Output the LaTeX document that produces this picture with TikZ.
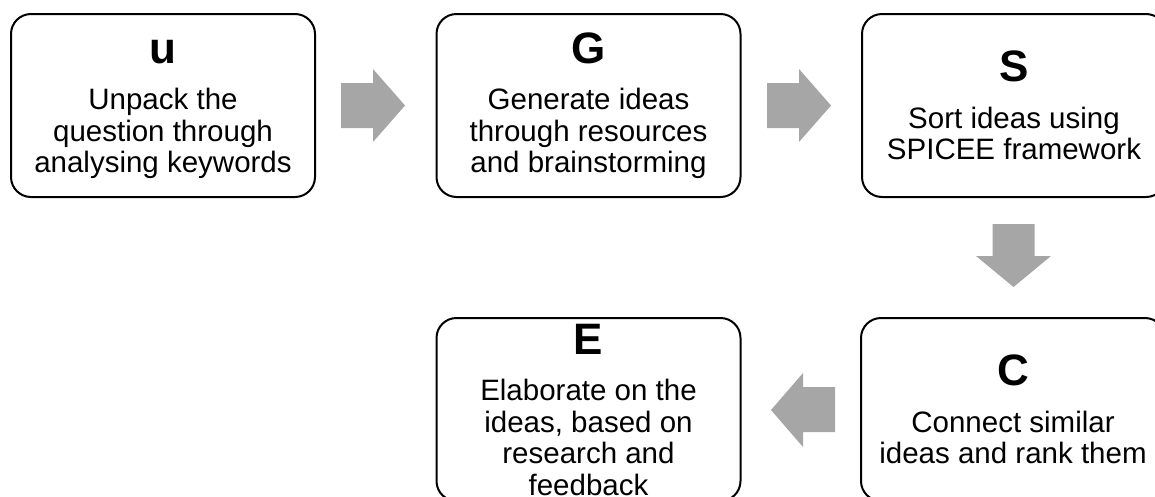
\documentclass[tikz,border=0pt]{standalone}
\usepackage{fontspec}
\setmainfont{Liberation Sans}
\definecolor{arrowgray}{HTML}{A6A6A6}
\newcommand{\steptitle}[1]{{\fontsize{44}{44}\selectfont\bfseries\vphantom{G}#1}}
\begin{document}
\begin{tikzpicture}[x=1pt,y=-1pt,
  stepbox/.style={draw=black, line width=2pt, rounded corners=20pt,
    minimum width=304pt, minimum height=183pt, inner sep=0pt,
    align=center, font=\fontsize{29.5}{31.5}\selectfont, fill=white},
  blockarrow/.style={fill=arrowgray, draw=none}]
\useasboundingbox (0,0) rectangle (1155,496);
\node[stepbox] (U) at (163,105.5) {\steptitle{u}\\[15pt]Unpack the\\question through\\analysing keywords};
\node[stepbox] (G) at (588.5,105.5) {\steptitle{G}\\[15pt]Generate ideas\\through resources\\and brainstorming};
\node[stepbox] (S) at (1014,105.5) {\steptitle{S}\\[15pt]Sort ideas using\\SPICEE framework};
\node[stepbox] (C) at (1013,409.5) {\steptitle{C}\\[15pt]Connect similar\\ideas and rank them};
\node[stepbox] (E) at (588.5,409.5) {\steptitle{E}\\[15pt]Elaborate on the\\ideas, based on\\research and\\feedback};
\fill[blockarrow] (341,83) -- (373,83) -- (373,69) -- (405,105.5) -- (373,142) -- (373,128) -- (341,128) -- cycle;
\fill[blockarrow] (767,83) -- (799,83) -- (799,69) -- (831,105.5) -- (799,142) -- (799,128) -- (767,128) -- cycle;
\fill[blockarrow] (992.5,224) -- (1034.5,224) -- (1034.5,256) -- (1051,256) -- (1013.5,287) -- (976,256) -- (992.5,256) -- cycle;
\fill[blockarrow] (835,387) -- (803,387) -- (803,373) -- (771,410) -- (803,447) -- (803,432) -- (835,432) -- cycle;
\end{tikzpicture}
\end{document}
